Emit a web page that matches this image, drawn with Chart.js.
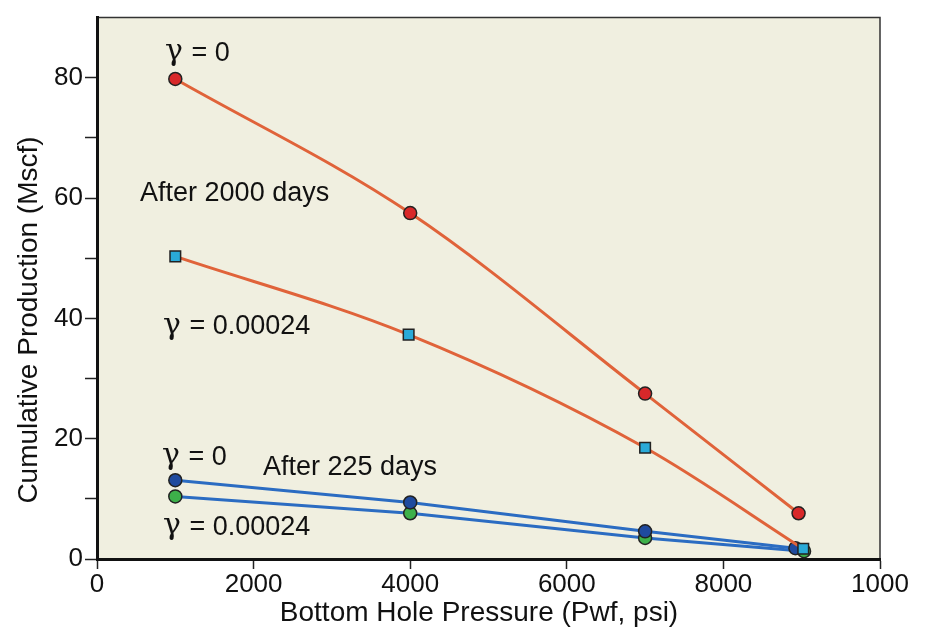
<!DOCTYPE html>
<html>
<head>
<meta charset="utf-8">
<script src="https://cdn.jsdelivr.net/npm/chart.js@4.4.0/dist/chart.umd.min.js"></script>
<style>
  html, body { margin: 0; padding: 0; background: #fff; }
  #wrap { width: 926px; height: 636px; }
</style>
</head>
<body>
<div id="wrap"><canvas id="chart" width="926" height="636"></canvas></div>
<script>
// Valeurs
const xTickLabels = ['0', '2000', '4000', '6000', '8000', '1000'];

const long0X = [1000, 4000, 7000, 8960];
const long0Y = [79.8, 57.5, 27.5, 7.6];
const longGX = [1000, 3980, 7000, 9020];
const longGY = [50.3, 37.3, 18.5, 1.7];

const short0X = [1000, 4000, 7000, 8920];
const short0Y = [13.1, 9.4, 4.6, 1.8];
const shortGX = [1000, 4000, 7000, 9030];
const shortGY = [10.4, 7.6, 3.5, 1.3];

const xTitle = 'Bottom Hole Pressure (Pwf, psi)';
const yTitle = 'Cumulative Production (Mscf)';

// Textes posés sur le graphique (coordonnées en unités de données)
const notes = [
  { text: 'γ = 0', x: 870, y: 84 },
  { text: 'After 2000 days', x: 550, y: 60.8 },
  { text: 'γ = 0.00024', x: 843, y: 38.6 },
  { text: 'γ = 0', x: 830, y: 16.9 },
  { text: 'After 225 days', x: 2120, y: 15.2 },
  { text: 'γ = 0.00024', x: 843, y: 5.3 },
];

const toPoints = (xs, ys) => xs.map((x, i) => ({ x: x, y: ys[i] }));

const FONT = 'Liberation Sans, Arial, Helvetica, sans-serif';
const ORANGE = '#e0633a';
const BLUE = '#2b6cc2';

// Fond beige et cadre de la zone de tracé
const plotBackground = {
  id: 'plotBackground',
  beforeDraw(chart) {
    const { ctx, chartArea: a } = chart;
    ctx.save();
    ctx.fillStyle = '#f0efe0';
    ctx.fillRect(a.left, a.top, a.right - a.left, a.bottom - a.top);
    ctx.strokeStyle = '#333';
    ctx.lineWidth = 1.5;
    ctx.beginPath();
    ctx.moveTo(a.left, a.top);
    ctx.lineTo(a.right, a.top);
    ctx.lineTo(a.right, a.bottom);
    ctx.stroke();
    ctx.restore();
  }
};

// Étiquettes de texte et titres des axes
const noteLabels = {
  id: 'noteLabels',
  afterDatasetsDraw(chart) {
    const { ctx, scales } = chart;
    ctx.save();
    ctx.fillStyle = '#111';
    ctx.textAlign = 'left';
    ctx.textBaseline = 'middle';
    notes.forEach(n => {
      let px = scales.x.getPixelForValue(n.x);
      const py = scales.y.getPixelForValue(n.y);
      let rest = n.text;
      if (rest.startsWith('γ')) {
        ctx.font = '30px DejaVu Serif, serif';
        ctx.fillText('γ', px, py - 1);
        px += ctx.measureText('γ').width + 1;
        rest = rest.slice(1);
      }
      ctx.font = '27px ' + FONT;
      ctx.fillText(rest, px, py);
    });

    ctx.font = '28px ' + FONT;
    ctx.textAlign = 'center';
    ctx.fillText(xTitle, 479, 613);
    ctx.translate(29, 320);
    ctx.rotate(-Math.PI / 2);
    ctx.fillText(yTitle, 0, 0);
    ctx.restore();
  }
};

const series = (data, line, fill, shape, curved) => ({
  data: data,
  showLine: true,
  borderColor: line,
  borderWidth: 3,
  cubicInterpolationMode: curved ? 'monotone' : 'default',
  tension: curved ? 0.4 : 0,
  pointStyle: shape,
  pointRadius: shape === 'rect' ? 7.5 : 6.5,
  pointBackgroundColor: fill,
  pointBorderColor: '#222',
  pointBorderWidth: 1.5,
});

new Chart(document.getElementById('chart'), {
  type: 'scatter',
  data: {
    datasets: [
      series(toPoints(longGX, longGY), ORANGE, '#2aaad8', 'rect', true),
      series(toPoints(long0X, long0Y), ORANGE, '#d8282a', 'circle', true),
      series(toPoints(short0X, short0Y), BLUE, '#1f4a9e', 'circle', false),
      series(toPoints(shortGX, shortGY), BLUE, '#3db04a', 'circle', false),
    ]
  },
  options: {
    responsive: false,
    animation: false,
    layout: { padding: { left: 0, top: 17, right: 46, bottom: 0 } },
    plugins: { legend: { display: false }, tooltip: { enabled: false } },
    scales: {
      x: {
        type: 'linear',
        min: 0,
        max: 10000,
        afterFit(scale) { scale.height = 77; },
        ticks: {
          stepSize: 2000,
          color: '#111',
          font: { size: 26, family: FONT },
          padding: 0,
          maxRotation: 0,
          callback: (v, i) => xTickLabels[i],
        },
        grid: { drawOnChartArea: false, drawTicks: true, tickLength: 10, tickColor: '#222', tickWidth: 1.5 },
        border: { display: true, color: '#111', width: 3 },
      },
      y: {
        type: 'linear',
        min: 0,
        max: 90,
        afterFit(scale) { scale.width = 97; },
        ticks: {
          stepSize: 10,
          color: '#111',
          font: { size: 26, family: FONT },
          padding: 2,
          callback: v => (v === 90 ? null : (v % 20 === 0 ? String(v) : '')),
        },
        grid: { drawOnChartArea: false, drawTicks: true, tickLength: 12, tickColor: '#222', tickWidth: 1.5 },
        border: { display: true, color: '#111', width: 3 },
      },
    },
  },
  plugins: [plotBackground, noteLabels],
});
</script>
</body>
</html>
